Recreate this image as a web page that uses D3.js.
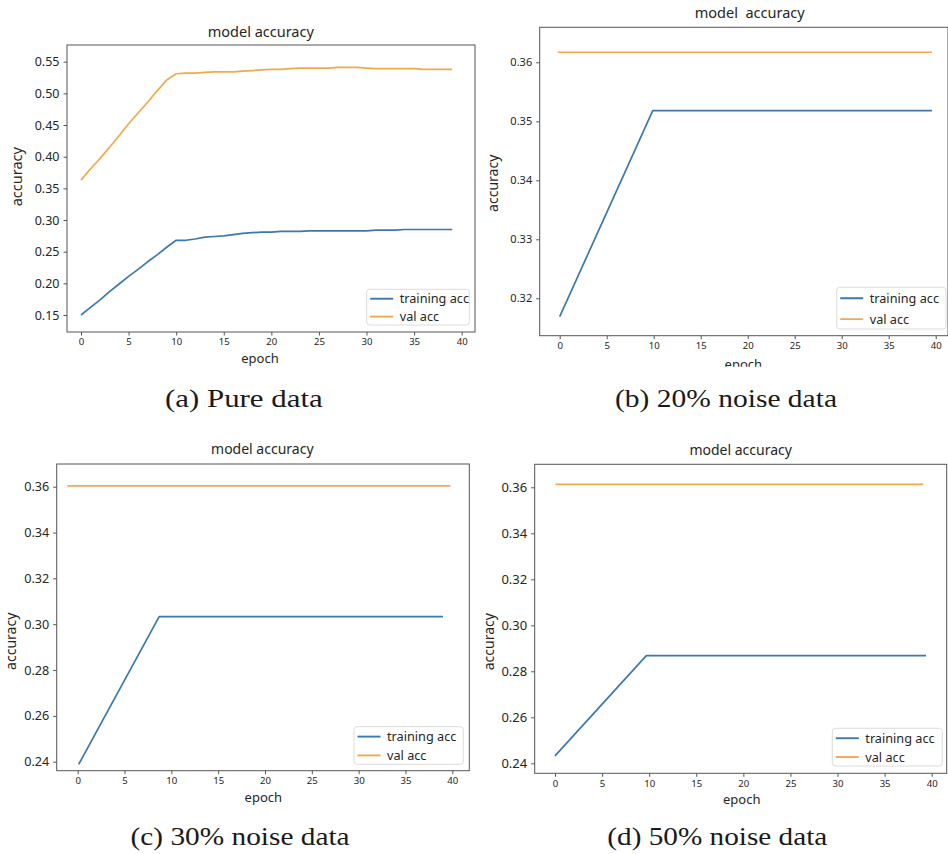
<!DOCTYPE html>
<html>
<head>
<meta charset="utf-8">
<script src="https://cdn.jsdelivr.net/npm/d3@7"></script>
<style>
  body { margin: 0; background: #fff; }
  svg text { font-family: "Noto Sans", sans-serif; fill: #262626; }
</style>
</head>
<body>
<svg id="fig" width="948" height="854"></svg>
<script>
// (a) pure data - one value per epoch
const epochsA = [0,1,2,3,4,5,6,7,8,9,10,11,12,13,14,15,16,17,18,19,20,21,22,23,24,25,26,27,28,29,30,31,32,33,34,35,36,37,38,39];
const trainA = [0.150,0.162,0.174,0.187,0.199,0.211,0.222,0.234,0.245,0.257,
                0.268,0.268,0.270,0.273,0.274,0.275,0.277,0.279,0.280,0.281,
                0.281,0.282,0.282,0.282,0.283,0.283,0.283,0.283,0.283,0.283,
                0.283,0.284,0.284,0.284,0.285,0.285,0.285,0.285,0.285,0.285];
const valA = [0.363,0.381,0.397,0.415,0.433,0.452,0.469,0.486,0.504,0.521,
              0.531,0.532,0.532,0.533,0.534,0.534,0.534,0.535,0.536,0.537,
              0.538,0.538,0.539,0.540,0.540,0.540,0.540,0.541,0.541,0.541,
              0.540,0.539,0.539,0.539,0.539,0.539,0.538,0.538,0.538,0.538];

// (b) 20% noise
const trainEpochsB = [0, 9.9, 39.6];
const trainB = [0.3169, 0.3518, 0.3518];
const valEpochsB = [-0.2, 39.6];
const valB = [0.3617, 0.3617];

// (c) 30% noise
const trainEpochsC = [0.1, 8.7, 39.0];
const trainC = [0.2388, 0.3033, 0.3033];
const valEpochsC = [-1.1, 39.8];
const valC = [0.3604, 0.3604];

// (d) 50% noise
const trainEpochsD = [0, 9.7, 39.4];
const trainD = [0.2432, 0.2868, 0.2868];
const valEpochsD = [0.05, 39.1];
const valD = [0.3613, 0.3613];

const xTicks = [0, 5, 10, 15, 20, 25, 30, 35, 40];
const yTicksA = [0.15, 0.20, 0.25, 0.30, 0.35, 0.40, 0.45, 0.50, 0.55];
const yTicksB = [0.32, 0.33, 0.34, 0.35, 0.36];
const yTicksCD = [0.24, 0.26, 0.28, 0.30, 0.32, 0.34, 0.36];

const titles = ["model accuracy", "model  accuracy", "model accuracy", "model accuracy"];
const captions = ["(a) Pure data", "(b) 20% noise data", "(c) 30% noise data", "(d) 50% noise data"];
const legendLabels = ["training acc", "val acc"];

const blue = "#3c78b0", orange = "#f2a94c";

const panels = [
  { box: [67, 45, 475, 332], xRef: [81, 461.7], yRef: [[0.55, 61.7], [0.15, 315]],
    yTicks: yTicksA, yFont: 12.5, title: [260.8, 36.7, 14.5], ylab: [16.7, 176.7, 14.5], xlab: [260, 363],
    legend: [366.7, 289.3, 469.3, 325], cap: [165, 406.7, 157.7],
    train: [epochsA, trainA], val: [epochsA, valA] },
  { box: [539.7, 27.3, 948, 335.7], xRef: [559.7, 935.7], yRef: [[0.36, 62.3], [0.32, 298.3]],
    yTicks: yTicksB, yFont: 11, title: [749.7, 18.3, 14.5], ylab: [493.3, 183.3, 14], xlab: [743.3, 369],
    clipY: 366.7,
    legend: [836.7, 287.3, 946, 329], cap: [615, 406.7, 222],
    train: [trainEpochsB, trainB], val: [valEpochsB, valB] },
  { box: [56.7, 464, 469.3, 770.7], xRef: [77.7, 452.3], yRef: [[0.36, 486.7], [0.24, 761.7]],
    yTicks: yTicksCD, yFont: 12.6, title: [262.3, 454, 14], ylab: [10.7, 641.3, 14], xlab: [263.3, 802],
    legend: [354, 726.7, 463.3, 764.3], cap: [130.6, 845, 219],
    train: [trainEpochsC, trainC], val: [valEpochsC, valC] },
  { box: [534.7, 464.3, 946.7, 773.3], xRef: [555, 931.7], yRef: [[0.36, 487.3], [0.24, 763.3]],
    yTicks: yTicksCD, yFont: 13, title: [740.7, 455, 14], ylab: [489, 641.7, 14], xlab: [741.7, 803.5],
    legend: [832.3, 728.3, 942.3, 766], cap: [607.3, 845, 220],
    train: [trainEpochsD, trainD], val: [valEpochsD, valD] }
];

const svg = d3.select("#fig");
const defs = svg.append("defs");

panels.forEach((p, i) => {
  const [x0, y0, x1, y1] = p.box;

  // scales anchored on the tick positions, then widened to the frame
  const x = d3.scaleLinear().domain([0, 40]).range(p.xRef);
  x.domain([x.invert(x0), x.invert(x1)]).range([x0, x1]);
  const y = d3.scaleLinear().domain([p.yRef[0][0], p.yRef[1][0]]).range([p.yRef[0][1], p.yRef[1][1]]);
  y.domain([y.invert(y1), y.invert(y0)]).range([y1, y0]);

  const g = svg.append("g");
  if (p.clipY) {
    defs.append("clipPath").attr("id", "clip" + i)
      .append("rect").attr("x", x0 - 80).attr("y", 0).attr("width", 500).attr("height", p.clipY);
    g.attr("clip-path", `url(#clip${i})`);
  }

  // x axis
  const xa = g.append("g").attr("transform", `translate(0,${y1})`)
    .call(d3.axisBottom(x).tickValues(xTicks).tickSize(3.5).tickPadding(3).tickFormat(d3.format("d")));
  xa.select(".domain").remove();
  xa.selectAll("line").attr("stroke", "#555");
  xa.selectAll("text").style("font-size", "9.6px").attr("fill", "#333");

  // y axis
  const ya = g.append("g").attr("transform", `translate(${x0},0)`)
    .call(d3.axisLeft(y).tickValues(p.yTicks).tickSize(3.5).tickPadding(4).tickFormat(d3.format(".2f")));
  ya.select(".domain").remove();
  ya.selectAll("line").attr("stroke", "#555");
  ya.selectAll("text").style("font-size", p.yFont + "px").attr("fill", "#333");

  const line = d3.line().x(d => x(d[0])).y(d => y(d[1]));
  const trainPts = p.train[0].map((e, k) => [e, p.train[1][k]]);
  const valPts = p.val[0].map((e, k) => [e, p.val[1][k]]);

  g.append("path").datum(trainPts).attr("d", line)
    .attr("fill", "none").attr("stroke", blue).attr("stroke-width", 1.7).attr("stroke-linejoin", "round");
  g.append("path").datum(valPts).attr("d", line)
    .attr("fill", "none").attr("stroke", orange).attr("stroke-width", 1.7).attr("stroke-linejoin", "round");

  // frame
  g.append("rect").attr("x", x0).attr("y", y0).attr("width", x1 - x0).attr("height", y1 - y0)
    .attr("fill", "none").attr("stroke", "#555").attr("stroke-width", 1);

  // legend
  const [lx0, ly0, lx1, ly1] = p.legend;
  g.append("rect").attr("x", lx0).attr("y", ly0).attr("width", lx1 - lx0).attr("height", ly1 - ly0)
    .attr("rx", 3).attr("fill", "#fff").attr("fill-opacity", 0.8).attr("stroke", "#dcdcdc");
  const rowH = (ly1 - ly0) / 2;
  [blue, orange].forEach((c, k) => {
    const cy = ly0 + rowH * (k + 0.5) + 0.5;
    g.append("line").attr("x1", lx0 + 3.5).attr("x2", lx0 + 26.5).attr("y1", cy).attr("y2", cy)
      .attr("stroke", c).attr("stroke-width", 1.9);
    g.append("text").attr("x", lx0 + 33).attr("y", cy).attr("dy", "0.35em")
      .style("font-size", "12.7px").text(legendLabels[k]);
  });

  // titles and axis labels
  g.append("text").attr("x", p.title[0]).attr("y", p.title[1]).attr("text-anchor", "middle")
    .style("font-size", p.title[2] + "px").style("white-space", "pre").text(titles[i]);
  g.append("text").attr("transform", `translate(${p.ylab[0]},${p.ylab[1]}) rotate(-90)`)
    .attr("text-anchor", "middle").attr("dy", "0.35em")
    .style("font-size", p.ylab[2] + "px").text("accuracy");
  g.append("text").attr("x", p.xlab[0]).attr("y", p.xlab[1]).attr("text-anchor", "middle")
    .style("font-size", "13px").text("epoch");

  // caption under the panel
  svg.append("text").attr("x", p.cap[0]).attr("y", p.cap[1])
    .attr("textLength", p.cap[2]).attr("lengthAdjust", "spacingAndGlyphs")
    .style("font-family", "'Liberation Serif', serif").style("font-size", "26px").style("fill", "#1a1a1a")
    .text(captions[i]);
});
</script>
</body>
</html>
